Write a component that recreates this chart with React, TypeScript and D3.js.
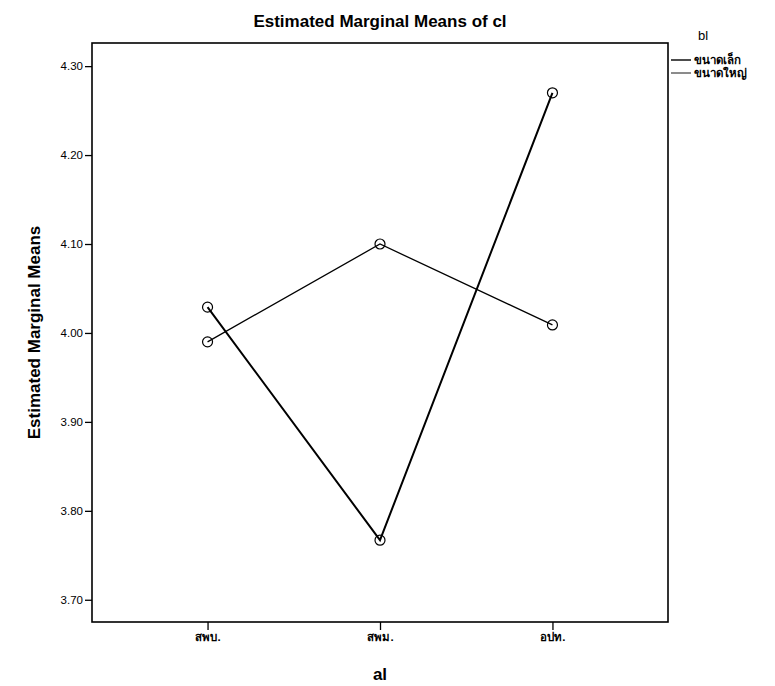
import { useEffect, useRef } from 'react'
import * as d3 from 'd3'

const categories = ['สพบ.', 'สพม.', 'อปท.']
const seriesNames = ['ขนาดเล็ก', 'ขนาดใหญ่']
const smallValues = [4.029, 3.767, 4.27]
const largeValues = [3.99, 4.1, 4.009]
const yTicks = [3.7, 3.8, 3.9, 4.0, 4.1, 4.2, 4.3]

export default function App() {
  const svgRef = useRef<SVGSVGElement>(null)

  useEffect(() => {
    document.body.style.margin = '0'
    if (!svgRef.current) return
    const svg = d3.select(svgRef.current)
    svg.selectAll('*').remove()

    const margin = { top: 43, right: 107, bottom: 64, left: 92 }
    const W = 775
    const H = 686
    const width = W - margin.left - margin.right
    const height = H - margin.top - margin.bottom
    const font = 'Arial, "Liberation Sans", sans-serif'

    svg.append('rect').attr('width', W).attr('height', H).attr('fill', '#fff')

    const g = svg.append('g').attr('transform', `translate(${margin.left},${margin.top})`)

    const x = d3.scalePoint<string>().domain(categories).range([0, width]).padding(0.67)
    const y = d3.scaleLinear().domain([3.675, 4.326]).range([height, 0])

    // frame
    g.append('rect')
      .attr('width', width)
      .attr('height', height)
      .attr('fill', 'none')
      .attr('stroke', '#000')
      .attr('stroke-width', 1.6)

    const yAxis = g.append('g')
      .call(d3.axisLeft(y).tickValues(yTicks).tickFormat(d3.format('.2f')).tickSize(7).tickPadding(2))
    yAxis.select('.domain').remove()
    yAxis.selectAll('text').attr('font-family', font).attr('font-size', 11.5).attr('fill', '#000')
    yAxis.selectAll('.tick line').attr('stroke', '#000').attr('stroke-width', 1.3)

    const xAxis = g.append('g')
      .attr('transform', `translate(0,${height})`)
      .call(d3.axisBottom(x).tickSize(8).tickPadding(3))
    xAxis.select('.domain').remove()
    xAxis.selectAll('text').attr('font-family', font).attr('font-size', 11.5).attr('font-weight', 'bold').attr('fill', '#000')
    xAxis.selectAll('.tick line').attr('stroke', '#000').attr('stroke-width', 1.3)

    const series = [
      { name: seriesNames[0], values: smallValues, width: 2 },
      { name: seriesNames[1], values: largeValues, width: 1.3 },
    ]

    const line = d3.line<number>()
      .x((_, i) => x(categories[i]) as number)
      .y(d => y(d))

    series.forEach(s => {
      g.append('path')
        .datum(s.values)
        .attr('fill', 'none')
        .attr('stroke', '#000')
        .attr('stroke-width', s.width)
        .attr('d', line)
      g.selectAll(null)
        .data(s.values)
        .enter()
        .append('circle')
        .attr('cx', (_, i) => x(categories[i]) as number)
        .attr('cy', d => y(d))
        .attr('r', 5)
        .attr('fill', 'none')
        .attr('stroke', '#000')
        .attr('stroke-width', 1.2)
    })

    // title
    svg.append('text')
      .attr('x', 380)
      .attr('y', 27)
      .attr('text-anchor', 'middle')
      .attr('font-family', font)
      .attr('font-size', 17)
      .attr('font-weight', 'bold')
      .text('Estimated Marginal Means of cl')

    svg.append('text')
      .attr('transform', `translate(40,${margin.top + height / 2}) rotate(-90)`)
      .attr('text-anchor', 'middle')
      .attr('font-family', font)
      .attr('font-size', 17)
      .attr('font-weight', 'bold')
      .text('Estimated Marginal Means')

    svg.append('text')
      .attr('x', margin.left + width / 2)
      .attr('y', 680)
      .attr('text-anchor', 'middle')
      .attr('font-family', font)
      .attr('font-size', 17)
      .attr('font-weight', 'bold')
      .text('al')

    // legend
    const lg = svg.append('g').attr('transform', `translate(${margin.left + width + 3},0)`)
    lg.append('text')
      .attr('x', 27)
      .attr('y', 40)
      .attr('font-family', font)
      .attr('font-size', 13)
      .text('bl')
    series.forEach((s, i) => {
      const yy = 60 + i * 13
      lg.append('line')
        .attr('x1', 0)
        .attr('x2', 20)
        .attr('y1', yy)
        .attr('y2', yy)
        .attr('stroke', '#000')
        .attr('stroke-width', s.width * 0.7)
      lg.append('text')
        .attr('x', 23)
        .attr('y', yy + 4)
        .attr('font-family', font)
        .attr('font-size', 11.5)
        .attr('font-weight', 'bold')
        .text(s.name)
    })
  }, [])

  return <svg ref={svgRef} width={775} height={686} style={{ display: 'block' }} />
}
